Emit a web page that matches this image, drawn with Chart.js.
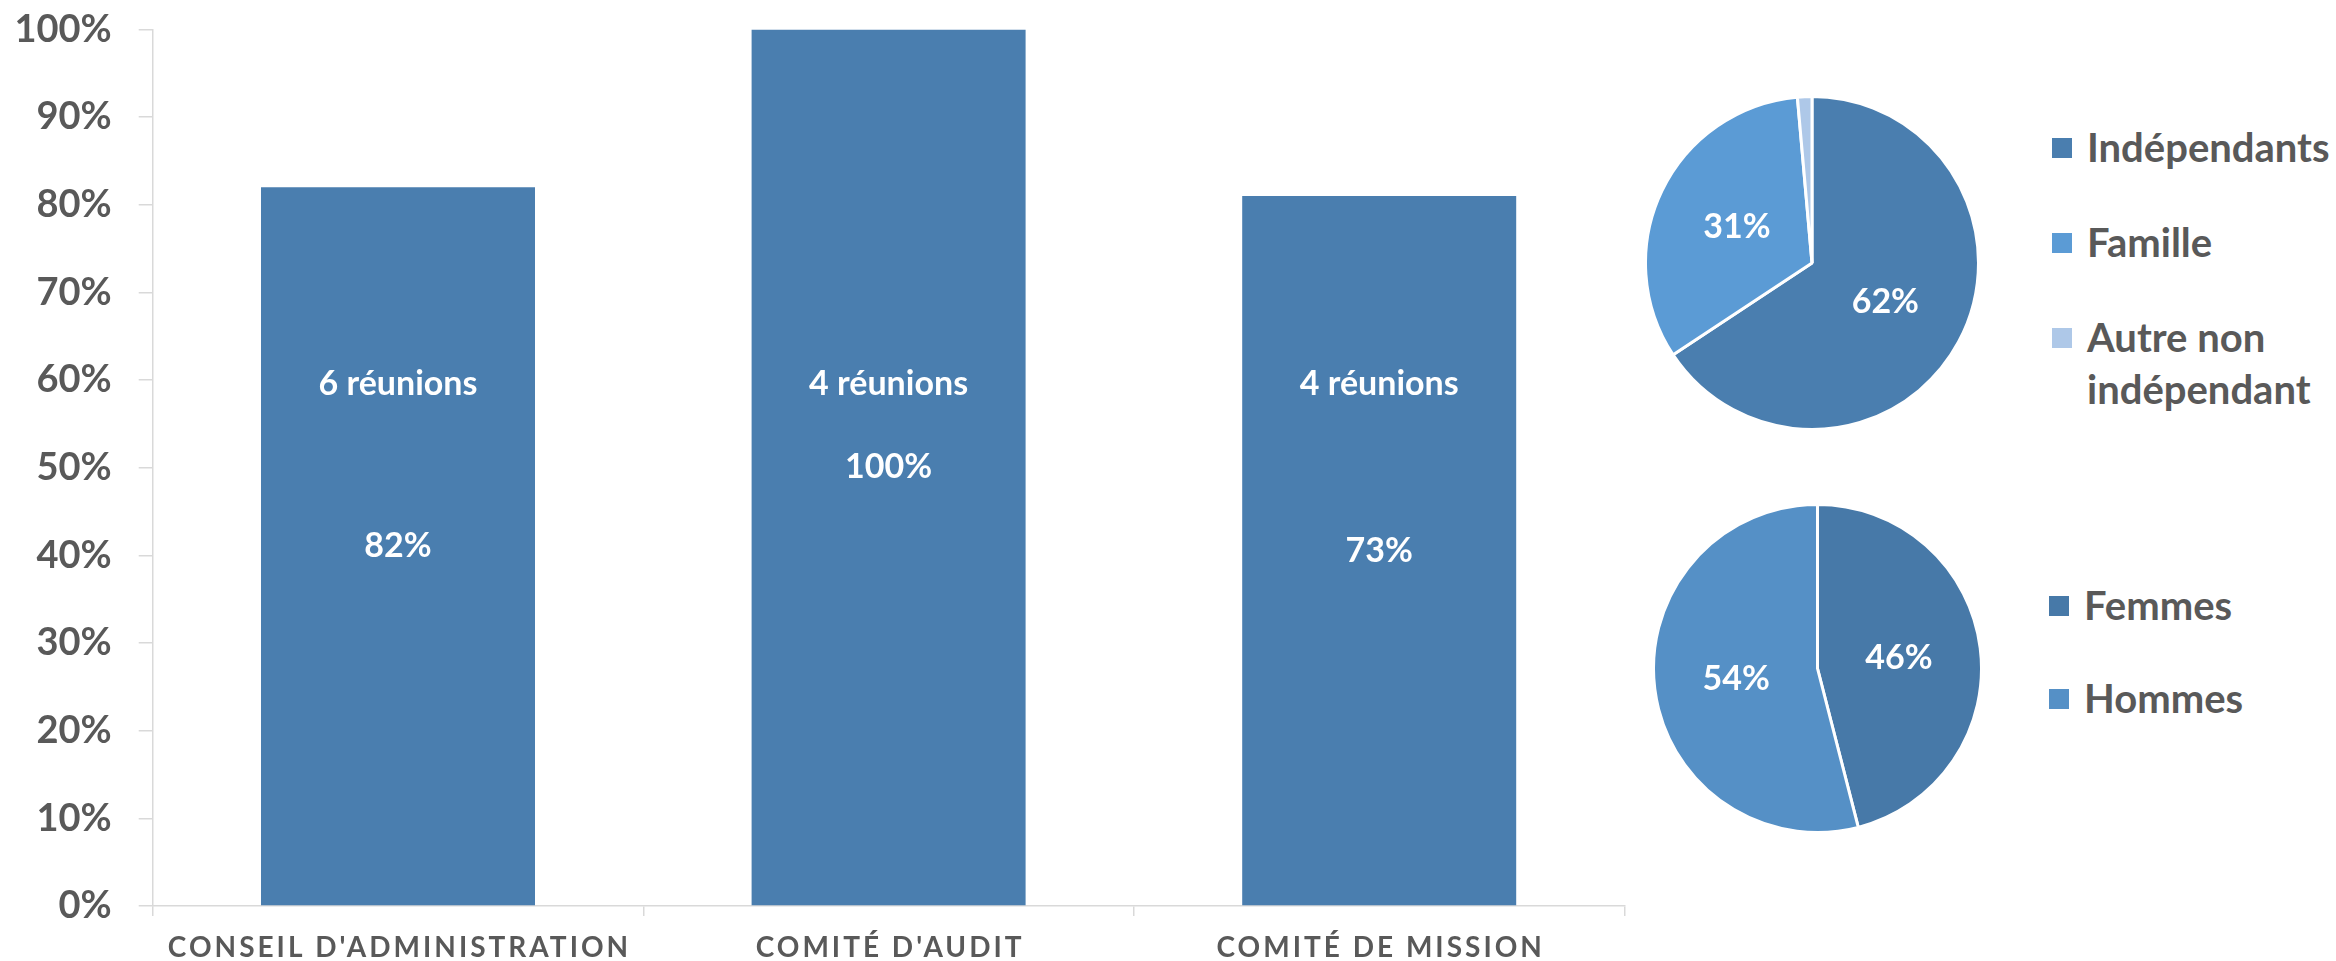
<!DOCTYPE html>
<html>
<head>
<meta charset="utf-8">
<script src="https://cdn.jsdelivr.net/npm/chart.js@4.4.1/dist/chart.umd.min.js"></script>
<style>
html,body{margin:0;padding:0;background:#ffffff;}
body{width:2336px;height:961px;position:relative;overflow:hidden;font-family:Lato,"Open Sans",sans-serif;}
canvas{position:absolute;display:block;}
.lg{position:absolute;display:flex;align-items:flex-start;color:#595959;font-weight:700;font-size:40px;line-height:52px;}
.lg .sq{width:20px;height:20px;margin-top:17px;margin-right:15px;flex:0 0 20px;}
.lg .tx{width:250px;}
</style>
</head>
<body>
<canvas id="bar" width="1660" height="961" style="left:0;top:0;width:1660px;height:961px;"></canvas>
<canvas id="pie1" width="336" height="336" style="left:1644px;top:95px;width:336px;height:336px;"></canvas>
<canvas id="pie2" width="331" height="331" style="left:1652px;top:503px;width:331px;height:331px;"></canvas>
<script>
// ---- data ----
const categories = ["CONSEIL D'ADMINISTRATION", "COMITÉ D'AUDIT", "COMITÉ DE MISSION"];
const attendance = [82, 100, 81];
const attendanceLabels = ["82%", "100%", "73%"];
const meetings = ["6 réunions", "4 réunions", "4 réunions"];
const yTicks = [0, 10, 20, 30, 40, 50, 60, 70, 80, 90, 100];

const boardLabels = ["Indépendants", "Famille", "Autre non indépendant"];
const boardValues = [65.7, 32.9, 1.4];
const boardValueLabels = ["62%", "31%", ""];

const genderLabels = ["Femmes", "Hommes"];
const genderValues = [46, 54];
const genderValueLabels = ["46%", "54%"];

// ---- styles ----
const textGrey = '#595959';
const axisGrey = '#d9d9d9';
const barColor = '#4a7eaf';
const boardColors = ['#4a7eaf', '#5b9bd5', '#aec8e8'];
const genderColors = ['#4779a8', '#5590c6'];
const FONT = 'Lato, "Open Sans", sans-serif';
const meetingLevel = 59.6;

Chart.defaults.font.family = FONT;
Chart.defaults.animation = false;

const barLabelPlugin = {
  id: 'barLabels',
  afterDatasetsDraw(chart) {
    const ctx = chart.ctx;
    const meta = chart.getDatasetMeta(0);
    const ys = chart.scales.y;
    ctx.save();
    ctx.fillStyle = '#ffffff';
    ctx.font = 'bold 34px ' + FONT;
    ctx.textAlign = 'center';
    ctx.textBaseline = 'middle';
    meta.data.forEach((bar, i) => {
      ctx.fillText(meetings[i], bar.x, ys.getPixelForValue(meetingLevel));
      ctx.fillText(attendanceLabels[i], bar.x, (bar.y + bar.base) / 2);
    });
    ctx.restore();
  },
  afterDraw(chart) {
    const ctx = chart.ctx;
    const xs = chart.scales.x;
    ctx.save();
    ctx.fillStyle = textGrey;
    ctx.font = 'bold 28px ' + FONT;
    ctx.letterSpacing = '3px';
    ctx.textAlign = 'center';
    ctx.textBaseline = 'middle';
    categories.forEach((c, i) => {
      ctx.fillText(c, xs.getPixelForValue(i) + 1.5, chart.chartArea.bottom + 42);
    });
    ctx.restore();
  }
};

new Chart(document.getElementById('bar'), {
  type: 'bar',
  data: {
    labels: categories,
    datasets: [{
      data: attendance,
      backgroundColor: barColor,
      borderWidth: 0,
      categoryPercentage: 1,
      barPercentage: 0.5585
    }]
  },
  options: {
    responsive: false,
    devicePixelRatio: 1,
    layout: { padding: { left: 0, top: 29.5, right: 35.5, bottom: 0 } },
    plugins: { legend: { display: false }, tooltip: { enabled: false } },
    scales: {
      x: {
        offset: true,
        grid: { offset: true, drawOnChartArea: false, drawTicks: true, tickLength: 10, color: axisGrey, lineWidth: 1.5 },
        border: { display: true, color: axisGrey, width: 1.5 },
        ticks: { display: false },
        afterFit(s) { s.height = 55; }
      },
      y: {
        min: 0, max: 100,
        afterBuildTicks(s) { s.ticks = yTicks.map(v => ({ value: v })); },
        grid: { drawOnChartArea: false, drawTicks: true, tickLength: 14, color: axisGrey, lineWidth: 1.5 },
        border: { display: true, color: axisGrey, width: 1.5 },
        ticks: {
          color: textGrey,
          padding: 27,
          font: { size: 38, weight: 'bold', family: FONT },
          callback: v => v + '%'
        },
        afterFit(s) { s.width = 152.7; s.paddingTop = 0; s.paddingBottom = 0; }
      }
    }
  },
  plugins: [barLabelPlugin]
});

function pieLabelPlugin(texts) {
  return {
    id: 'pieLabels',
    afterDatasetsDraw(chart) {
      const ctx = chart.ctx;
      const meta = chart.getDatasetMeta(0);
      ctx.save();
      ctx.fillStyle = '#ffffff';
      ctx.font = 'bold 34px ' + FONT;
      ctx.textAlign = 'center';
      ctx.textBaseline = 'middle';
      meta.data.forEach((arc, i) => {
        if (!texts[i]) return;
        const p = arc.tooltipPosition();
        ctx.fillText(texts[i], p.x, p.y);
      });
      ctx.restore();
    }
  };
}

function makePie(id, labels, values, colors, texts) {
  new Chart(document.getElementById(id), {
    type: 'pie',
    data: {
      labels: labels,
      datasets: [{ data: values, backgroundColor: colors, borderColor: '#ffffff', borderWidth: 3 }]
    },
    options: {
      responsive: false,
      devicePixelRatio: 1,
      layout: { padding: 0 },
      plugins: { legend: { display: false }, tooltip: { enabled: false } }
    },
    plugins: [pieLabelPlugin(texts)]
  });
}
makePie('pie1', boardLabels, boardValues, boardColors, boardValueLabels);
makePie('pie2', genderLabels, genderValues, genderColors, genderValueLabels);

// ---- legends (HTML text) ----
function makeLegend(labels, colors, left, tops) {
  labels.forEach((l, i) => {
    const d = document.createElement('div');
    d.className = 'lg';
    d.style.left = left + 'px';
    d.style.top = tops[i] + 'px';
    const s = document.createElement('div');
    s.className = 'sq';
    s.style.background = colors[i];
    const t = document.createElement('div');
    t.className = 'tx';
    t.textContent = l;
    d.appendChild(s); d.appendChild(t);
    document.body.appendChild(d);
  });
}
makeLegend(boardLabels, boardColors, 2052, [121, 216, 311]);
makeLegend(genderLabels, genderColors, 2049, [579, 672]);
</script>
</body>
</html>
